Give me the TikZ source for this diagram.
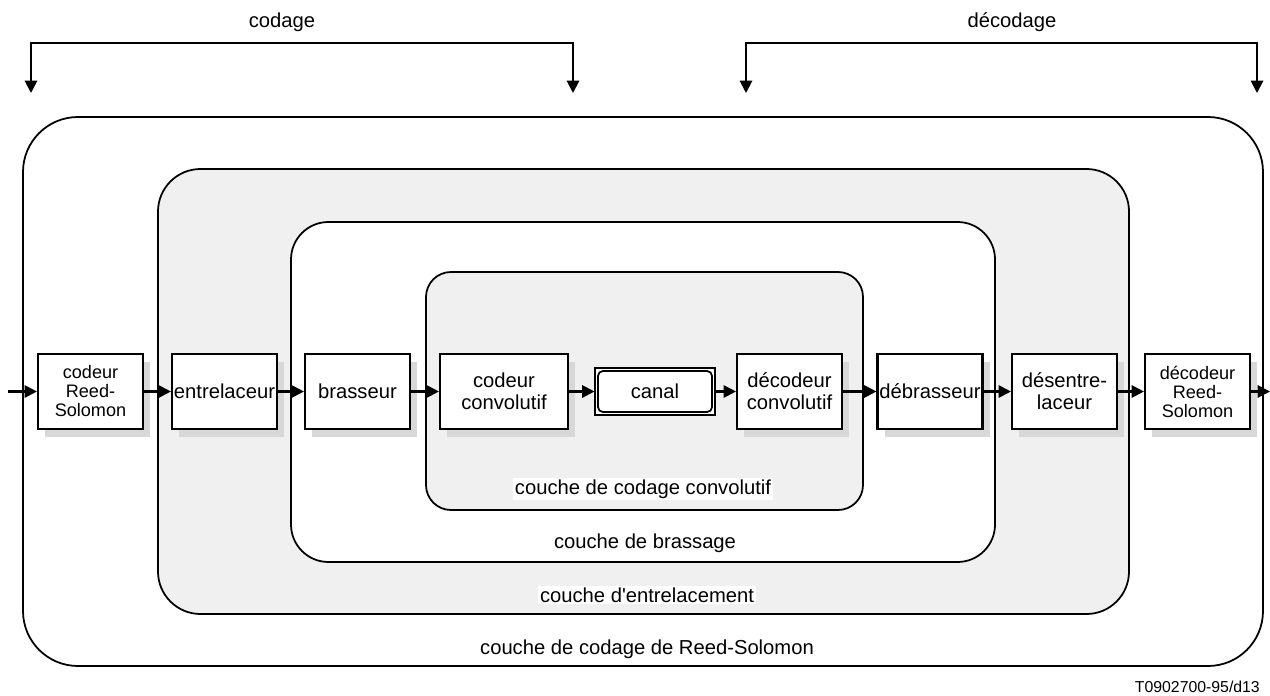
\documentclass[tikz,border=0pt]{standalone}
\usepackage{fontspec}
\setmainfont{Liberation Sans}
\usetikzlibrary{arrows.meta,shadows}

\definecolor{layergray}{RGB}{240,240,240}
\definecolor{shadowgray}{RGB}{216,216,216}

\tikzset{
  layer/.style={draw,line width=1pt},
  layerlabel/.style={inner sep=1pt},
  block/.style={draw,fill=white,line width=1.2pt,minimum width=2.1cm,
    minimum height=1.5cm,align=center,inner sep=0.5pt,
    drop shadow={shadow xshift=0.14cm,shadow yshift=-0.16cm,fill=shadowgray,opacity=1}},
  rsblock/.style={block,font=\fontsize{10.3}{10.8}\selectfont},
  flow/.style={line width=1.15pt,-{Triangle[length=7pt,width=7pt]}},
  bracket/.style={line width=1.15pt,{Triangle[length=7pt,width=7pt]}-{Triangle[length=7pt,width=7pt]}},
}

\begin{document}
\begin{tikzpicture}[font=\fontsize{11.5}{12.5}\selectfont]
  \useasboundingbox (0,0) rectangle (25.4,13.9);

  % nested layers
  \draw[layer,fill=white,rounded corners=1.1cm] (0.46,0.58) rectangle (25.26,11.56);
  \draw[layer,fill=layergray,rounded corners=0.85cm] (3.16,1.62) rectangle (22.58,10.52);
  \draw[layer,fill=white,rounded corners=0.75cm] (5.82,2.66) rectangle (19.9,9.46);
  \draw[layer,fill=layergray,rounded corners=0.5cm] (8.52,3.7) rectangle (17.26,8.46);

  \node[layerlabel,fill=white] (lconv) at (12.86,4.12) {couche de codage convolutif};
  \node[layerlabel] (lbras) at (12.9,3.04) {couche de brassage};
  \node[layerlabel,fill=white] (lentr) at (12.94,2.0) {couche d\textquotesingle entrelacement};
  \node[layerlabel] (lrs) at (12.94,0.92) {couche de codage de Reed-Solomon};

  % blocks
  \node[rsblock] (rsc) at (1.81,6.07) {codeur\\Reed-\\Solomon};
  \node[block] (ent) at (4.49,6.07) {entrelaceur};
  \node[block] (bra) at (7.15,6.07) {brasseur};
  \node[block,minimum width=2.56cm] (cc) at (10.08,6.07) {codeur\\convolutif};
  \node[draw,fill=white,line width=0.6pt,minimum width=2.4cm,minimum height=0.94cm] (canal) at (13.1,6.07) {canal};
  \draw[line width=1pt,rounded corners=0.1cm] ([shift={(0.07,0.07)}]canal.south west) rectangle ([shift={(-0.07,-0.07)}]canal.north east);
  \node[block] (dc) at (15.79,6.07) {décodeur\\convolutif};
  \node[block] (deb) at (18.6,6.07) {débrasseur};
  \node[block] (des) at (21.29,6.07) {désentre-\\laceur};
  \node[rsblock] (rsd) at (23.95,6.07) {décodeur\\Reed-\\Solomon};

  % data path
  \coordinate (in) at (0.16,6.07);
  \coordinate (out) at (25.4,6.07);
  \draw[flow] (in) -- (rsc);
  \foreach \a/\b in {rsc/ent,ent/bra,bra/cc,cc/canal,canal/dc,dc/deb,deb/des,des/rsd}
    \draw[flow] (\a) -- (\b);
  \draw[flow] (rsd) -- (out);

  % codage / decodage brackets
  \coordinate (codl) at (0.62,12.04);
  \coordinate (codr) at (11.46,12.04);
  \coordinate (decl) at (14.92,12.04);
  \coordinate (decr) at (25.14,12.04);
  \draw[bracket] (codl) |- (6,13.04) -| (codr);
  \draw[bracket] (decl) |- (20,13.04) -| (decr);
  \node (codage) at (5.64,13.46) {codage};
  \node (decodage) at (20.24,13.46) {décodage};

  \node[anchor=east,font=\fontsize{9}{10}\selectfont] (ref) at (25.32,0.16) {T0902700-95/d13};
\end{tikzpicture}
\end{document}
